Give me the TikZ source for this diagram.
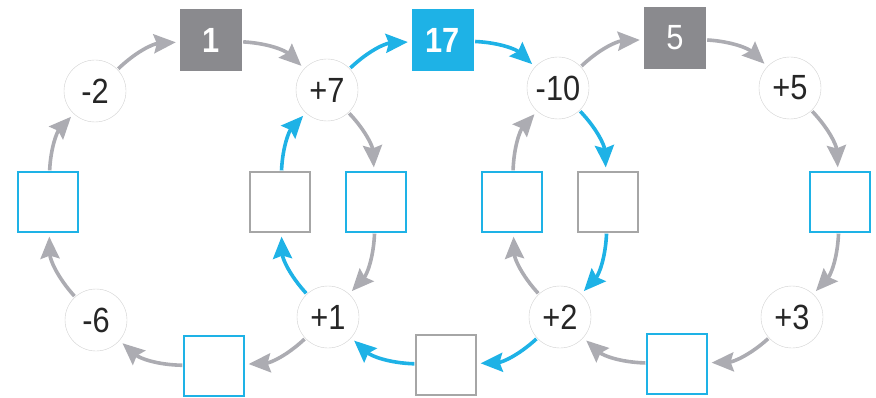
\documentclass[tikz,border=0pt]{standalone}
\usepackage{fontspec}
\setmainfont{Liberation Sans}[FakeStretch=0.88]
\usetikzlibrary{arrows.meta,positioning}
\definecolor{cy}{RGB}{30,178,230}
\definecolor{ag}{RGB}{172,172,178}
\definecolor{bg}{RGB}{138,138,142}
\tikzstyle{op} = [circle, draw=black!18, fill=white, minimum size=62pt,
    inner sep=0pt, text=black!85, font=\fontsize{35}{35}\selectfont]
\tikzstyle{bx} = [rectangle, draw=cy, line width=1.2pt, minimum size=60pt, inner sep=0pt]
\tikzstyle{bxg} = [bx, draw=black!35]
\tikzstyle{num} = [rectangle, fill=bg, minimum size=62pt, inner sep=0pt,
    text=white, font=\bfseries\fontsize{35}{35}\selectfont]
\tikzstyle{ga} = [draw=ag, line width=3.6pt, -{Stealth[length=22pt,width=19pt,inset=3pt]},
    shorten >=4pt, shorten <=1pt]
\tikzstyle{ca} = [ga, draw=cy]

\begin{document}
\begin{tikzpicture}[x=1pt,y=1pt]
  \useasboundingbox (0,0) rectangle (876,397);
  % circles
  \node[op] (m2)  at (95,306)  {-2};
  \node[op] (p7)  at (327,307) {+7};
  \node[op] (m10) at (558,309) {-10};
  \node[op] (p5)  at (790,309) {+5};
  \node[op] (m6)  at (96,77)   {-6};
  \node[op] (p1)  at (328,80)  {+1};
  \node[op] (p2)  at (560,80)  {+2};
  \node[op] (p3)  at (792,80)  {+3};
  % numbers on top
  \node[num] (one) at (211,357) {1};
  \node[num,fill=cy] (svt) at (443,357) {17};
  \node[num,font=\fontsize{35}{35}\selectfont] (five) at (675,359) {5};
  % empty boxes
  \node[bx]  (a) at (48,195)  {};
  \node[bxg] (b) at (280,195) {};
  \node[bx]  (c) at (376,195) {};
  \node[bx]  (d) at (512,195) {};
  \node[bxg] (e) at (608,195) {};
  \node[bx]  (f) at (840,195) {};
  \node[bx]  (g) at (214,31)  {};
  \node[bxg] (h) at (446,32)  {};
  \node[bx]  (i) at (677,33)  {};

  \foreach \s/\t in {g/m6,m6/a,a/m2,m2/one,one/p7,p7/c,c/p1,p1/g,
                     p2/d,d/m10,m10/five,five/p5,p5/f,f/p3,p3/i,i/p2}
    \draw[ga] (\s) to[bend left=20] (\t);
  \foreach \s/\t in {h/p1,p1/b,b/p7,p7/svt,svt/m10,m10/e,e/p2,p2/h}
    \draw[ca] (\s) to[bend left=20] (\t);
\end{tikzpicture}
\end{document}
